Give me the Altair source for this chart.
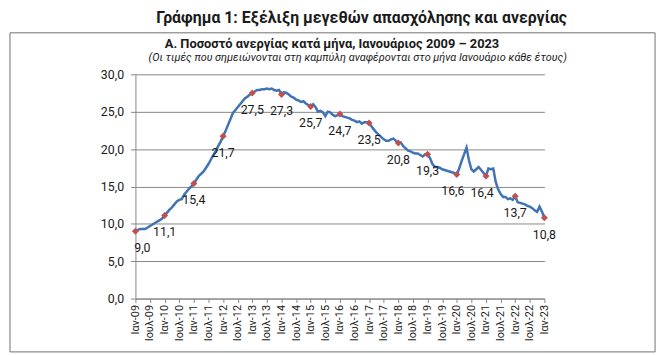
import altair as alt
import pandas as pd

main_title = "Γράφημα 1: Εξέλιξη μεγεθών απασχόλησης και ανεργίας"
sub_title = "Α. Ποσοστό ανεργίας κατά μήνα, Ιανουάριος 2009 – 2023"
note = "(Οι τιμές που σημειώνονται στη καμπύλη αναφέρονται στο μήνα Ιανουάριο κάθε έτους)"

x_tick_labels = [
    "Ιαν-09", "Ιουλ-09", "Ιαν-10", "Ιουλ-10", "Ιαν-11", "Ιουλ-11", "Ιαν-12", "Ιουλ-12",
    "Ιαν-13", "Ιουλ-13", "Ιαν-14", "Ιουλ-14", "Ιαν-15", "Ιουλ-15", "Ιαν-16", "Ιουλ-16",
    "Ιαν-17", "Ιουλ-17", "Ιαν-18", "Ιουλ-18", "Ιαν-19", "Ιουλ-19", "Ιαν-20", "Ιουλ-20",
    "Ιαν-21", "Ιουλ-21", "Ιαν-22", "Ιουλ-22", "Ιαν-23",
]
y_ticks = [0, 5, 10, 15, 20, 25, 30]

# monthly unemployment rate, Jan 2009 .. Jan 2023
rate_2009 = [9.0, 9.2, 9.3, 9.3, 9.3, 9.5, 9.7, 9.9, 10.1, 10.3, 10.5, 10.7]
rate_2010 = [11.1, 11.5, 11.9, 12.2, 12.6, 13.0, 13.2, 13.3, 13.9, 14.3, 14.7, 15.0]
rate_2011 = [15.4, 15.9, 16.4, 16.7, 17.0, 17.5, 18.0, 18.6, 19.2, 19.8, 20.4, 21.0]
rate_2012 = [21.7, 22.4, 23.2, 24.0, 24.8, 25.2, 25.6, 26.0, 26.4, 26.8, 27.0, 27.3]
rate_2013 = [27.5, 27.7, 27.9, 27.9, 28.0, 28.0, 28.1, 28.0, 28.1, 27.9, 27.8, 27.9]
rate_2014 = [27.3, 27.6, 27.5, 27.3, 27.0, 26.9, 26.6, 26.5, 26.3, 26.4, 26.1, 25.9]
rate_2015 = [25.7, 26.0, 25.6, 25.0, 25.1, 24.9, 24.4, 25.0, 24.9, 24.6, 24.4, 24.5]
rate_2016 = [24.7, 24.4, 24.3, 24.2, 24.1, 23.9, 23.8, 23.6, 23.7, 23.4, 23.6, 23.6]
rate_2017 = [23.5, 23.0, 22.6, 22.2, 21.9, 21.6, 21.3, 21.1, 21.1, 21.3, 21.4, 21.1]
rate_2018 = [20.8, 20.9, 20.4, 20.1, 19.8, 19.7, 19.5, 19.4, 19.4, 19.2, 19.0, 19.3]
rate_2019 = [19.3, 18.8, 18.0, 17.6, 17.6, 17.5, 17.3, 17.2, 17.1, 17.0, 16.9, 16.8]
rate_2020 = [16.6, 17.4, 18.4, 19.3, 20.2, 18.5, 17.3, 17.0, 17.3, 17.6, 17.2, 16.8]
rate_2021 = [16.4, 17.4, 17.3, 17.4, 15.6, 14.6, 14.0, 13.6, 13.6, 13.3, 13.4, 13.2]
rate_2022 = [13.7, 12.9, 12.8, 12.7, 12.6, 12.4, 12.3, 12.1, 11.8, 11.6, 12.3, 11.6]
rate_2023 = [10.8]

unemployment = (rate_2009 + rate_2010 + rate_2011 + rate_2012 + rate_2013 + rate_2014 +
                rate_2015 + rate_2016 + rate_2017 + rate_2018 + rate_2019 + rate_2020 +
                rate_2021 + rate_2022 + rate_2023)

df = pd.DataFrame({"m": list(range(len(unemployment))), "v": unemployment})
jan = df[df["m"] % 12 == 0].copy()
jan["year"] = 2009 + jan["m"] // 12
jan["lab"] = jan["v"].map(lambda v: f"{v:.1f}".replace(".", ","))

FONT = "Roboto"
GRAY = "#868686"
label_js = "[" + ",".join(f"'{s}'" for s in x_tick_labels) + "]"

x_enc = alt.X(
    "m:Q",
    scale=alt.Scale(domain=[0, 168], nice=False, zero=False),
    axis=alt.Axis(
        values=list(range(0, 169, 6)),
        labelExpr=f"{label_js}[round(datum.value/6)]",
        labelAngle=270,
        labelFontSize=11,
        labelOverlap=False,
        tickSize=4,
        labelPadding=2,
        grid=False,
        title=None,
    ),
)
y_enc = alt.Y(
    "v:Q",
    scale=alt.Scale(domain=[0, 30]),
    axis=alt.Axis(
        values=y_ticks,
        labelExpr="replace(format(datum.value, '.1f'), '.', ',')",
        labelFontSize=12.5,
        labelOverlap=False,
        tickSize=5,
        labelPadding=7,
        grid=True,
        title=None,
    ),
)

base = alt.Chart(df)
line = base.mark_line(color="#3f73b5", strokeWidth=2.5).encode(x=x_enc, y=y_enc)

jb = alt.Chart(jan)
points = jb.mark_point(shape="diamond", filled=True, color="#c0504d", size=50, opacity=1).encode(
    x=x_enc, y=y_enc
)
txt_kw = dict(font=FONT, fontSize=12.5, color="#1a1a1a", baseline="middle", align="center", dy=17)
labels_c = jb.transform_filter("datum.year != 2009 && datum.year != 2020 && datum.year != 2021").mark_text(**txt_kw).encode(
    x=x_enc, y=y_enc, text="lab:N")
labels_r = jb.transform_filter("datum.year == 2009").mark_text(dx=7, **txt_kw).encode(
    x=x_enc, y=y_enc, text="lab:N")
labels_l = jb.transform_filter("datum.year == 2020 || datum.year == 2021").mark_text(dx=-4, **txt_kw).encode(
    x=x_enc, y=y_enc, text="lab:N")

one = pd.DataFrame({"t": [main_title], "s": [sub_title], "n": [note]})
oc = alt.Chart(one)
t_main = oc.mark_text(font=FONT, fontSize=16, fontWeight="bold", color="#1a1a1a", align="center", baseline="middle").encode(
    text="t:N", x=alt.value(229), y=alt.value(-57))
t_sub = oc.mark_text(font=FONT, fontSize=13, fontWeight="bold", color="#1a1a1a", align="center", baseline="middle").encode(
    text="s:N", x=alt.value(199), y=alt.value(-31))
t_note = oc.mark_text(font=FONT, fontSize=11, fontStyle="italic", color="#1a1a1a", align="center", baseline="middle").encode(
    text="n:N", x=alt.value(225), y=alt.value(-16))
frame = oc.mark_rect(fill="transparent", stroke="#6f6f6f", strokeWidth=1).encode(
    x=alt.value(-127), x2=alt.value(526), y=alt.value(-42), y2=alt.value(281))

chart = alt.layer(line, points, labels_c, labels_r, labels_l, frame, t_main, t_sub, t_note).properties(
    width=414,
    height=227,
    autosize=alt.AutoSizeParams(type="none"),
    padding={"left": 129, "top": 65, "right": 116, "bottom": 55},
).configure_view(stroke=None).configure_axis(
    labelFont=FONT,
    labelColor="#1a1a1a",
    domainColor=GRAY,
    tickColor=GRAY,
    gridColor=GRAY,
    gridWidth=1,
    domainWidth=1,
)

chart.save("out.html", embed_options={"renderer": "svg", "actions": False})
